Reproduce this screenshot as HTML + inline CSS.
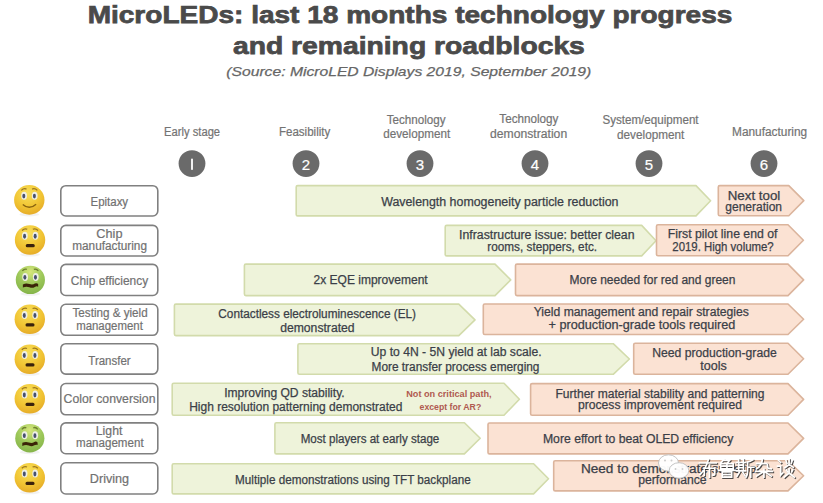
<!DOCTYPE html><html><head><meta charset="utf-8"><style>html,body{margin:0;padding:0;background:#fff;width:823px;height:503px;overflow:hidden}svg{display:block;font-family:"Liberation Sans", sans-serif}</style></head><body>
<svg width="823" height="503" viewBox="0 0 823 503">
<text x="410.0" y="23.4" text-anchor="middle" font-size="24.6" fill="#4a4a4a" font-weight="bold" font-style="normal" textLength="644.7" lengthAdjust="spacingAndGlyphs" stroke="#4a4a4a" stroke-width="0.75">MicroLEDs: last 18 months technology progress</text>
<text x="408.9" y="53.8" text-anchor="middle" font-size="24.6" fill="#4a4a4a" font-weight="bold" font-style="normal" textLength="351.9" lengthAdjust="spacingAndGlyphs" stroke="#4a4a4a" stroke-width="0.75">and remaining roadblocks</text>
<text x="408.8" y="76.3" text-anchor="middle" font-size="13.6" fill="#666" font-weight="normal" font-style="italic" textLength="365.0" lengthAdjust="spacingAndGlyphs" stroke="#666" stroke-width="0.25">(Source: MicroLED Displays 2019, September 2019)</text>
<text x="192.1" y="136.1" text-anchor="middle" font-size="12" fill="#737373" font-weight="normal" font-style="normal" textLength="56.0" lengthAdjust="spacingAndGlyphs" stroke="#737373" stroke-width="0.2">Early stage</text>
<text x="304.6" y="136.0" text-anchor="middle" font-size="12" fill="#737373" font-weight="normal" font-style="normal" textLength="51.4" lengthAdjust="spacingAndGlyphs" stroke="#737373" stroke-width="0.2">Feasibility</text>
<text x="416.1" y="123.6" text-anchor="middle" font-size="12" fill="#737373" font-weight="normal" font-style="normal" textLength="58.9" lengthAdjust="spacingAndGlyphs" stroke="#737373" stroke-width="0.2">Technology</text>
<text x="416.7" y="138.2" text-anchor="middle" font-size="12" fill="#737373" font-weight="normal" font-style="normal" textLength="66.9" lengthAdjust="spacingAndGlyphs" stroke="#737373" stroke-width="0.2">development</text>
<text x="528.9" y="123.4" text-anchor="middle" font-size="12" fill="#737373" font-weight="normal" font-style="normal" textLength="59.1" lengthAdjust="spacingAndGlyphs" stroke="#737373" stroke-width="0.2">Technology</text>
<text x="528.6" y="138.4" text-anchor="middle" font-size="12" fill="#737373" font-weight="normal" font-style="normal" textLength="77.1" lengthAdjust="spacingAndGlyphs" stroke="#737373" stroke-width="0.2">demonstration</text>
<text x="650.5" y="123.9" text-anchor="middle" font-size="12" fill="#737373" font-weight="normal" font-style="normal" textLength="96.2" lengthAdjust="spacingAndGlyphs" stroke="#737373" stroke-width="0.2">System/equipment</text>
<text x="650.7" y="138.7" text-anchor="middle" font-size="12" fill="#737373" font-weight="normal" font-style="normal" textLength="67.3" lengthAdjust="spacingAndGlyphs" stroke="#737373" stroke-width="0.2">development</text>
<text x="769.6" y="136.3" text-anchor="middle" font-size="12" fill="#737373" font-weight="normal" font-style="normal" textLength="75.1" lengthAdjust="spacingAndGlyphs" stroke="#737373" stroke-width="0.2">Manufacturing</text>
<circle cx="192" cy="163.6" r="13.4" fill="#6a6a6a"/>
<rect x="191.1" y="158.7" width="1.8" height="11.1" fill="#fff"/>
<circle cx="306" cy="163.6" r="13.4" fill="#6a6a6a"/>
<text x="306" y="170.3" text-anchor="middle" font-size="15" fill="#fff" stroke="#fff" stroke-width="0.2">2</text>
<circle cx="420" cy="163.6" r="13.4" fill="#6a6a6a"/>
<text x="420" y="170.3" text-anchor="middle" font-size="15" fill="#fff" stroke="#fff" stroke-width="0.2">3</text>
<circle cx="535" cy="163.6" r="13.4" fill="#6a6a6a"/>
<text x="535" y="170.3" text-anchor="middle" font-size="15" fill="#fff" stroke="#fff" stroke-width="0.2">4</text>
<circle cx="649" cy="163.6" r="13.4" fill="#6a6a6a"/>
<text x="649" y="170.3" text-anchor="middle" font-size="15" fill="#fff" stroke="#fff" stroke-width="0.2">5</text>
<circle cx="764" cy="163.6" r="13.4" fill="#6a6a6a"/>
<text x="764" y="170.3" text-anchor="middle" font-size="15" fill="#fff" stroke="#fff" stroke-width="0.2">6</text>
<rect x="60.8" y="185.7" width="97" height="30.3" rx="5" ry="5" fill="#fff" stroke="#808080" stroke-width="1.6"/>
<text x="109.3" y="206.0" text-anchor="middle" font-size="12" fill="#717171" font-weight="normal" font-style="normal" textLength="37.6" lengthAdjust="spacingAndGlyphs" stroke="#717171" stroke-width="0.2">Epitaxy</text>
<rect x="60.8" y="225.4" width="97" height="30.6" rx="5" ry="5" fill="#fff" stroke="#808080" stroke-width="1.6"/>
<text x="109.4" y="237.9" text-anchor="middle" font-size="12" fill="#717171" font-weight="normal" font-style="normal" textLength="26.1" lengthAdjust="spacingAndGlyphs" stroke="#717171" stroke-width="0.2">Chip</text>
<text x="109.6" y="249.8" text-anchor="middle" font-size="12" fill="#717171" font-weight="normal" font-style="normal" textLength="74.7" lengthAdjust="spacingAndGlyphs" stroke="#717171" stroke-width="0.2">manufacturing</text>
<rect x="60.8" y="264.4" width="97" height="31.1" rx="5" ry="5" fill="#fff" stroke="#808080" stroke-width="1.6"/>
<text x="109.5" y="285.0" text-anchor="middle" font-size="12" fill="#717171" font-weight="normal" font-style="normal" textLength="77.3" lengthAdjust="spacingAndGlyphs" stroke="#717171" stroke-width="0.2">Chip efficiency</text>
<rect x="60.8" y="304.3" width="97" height="31.0" rx="5" ry="5" fill="#fff" stroke="#808080" stroke-width="1.6"/>
<text x="110.1" y="317.4" text-anchor="middle" font-size="12" fill="#717171" font-weight="normal" font-style="normal" textLength="75.1" lengthAdjust="spacingAndGlyphs" stroke="#717171" stroke-width="0.2">Testing &amp; yield</text>
<text x="109.5" y="329.5" text-anchor="middle" font-size="12" fill="#717171" font-weight="normal" font-style="normal" textLength="66.7" lengthAdjust="spacingAndGlyphs" stroke="#717171" stroke-width="0.2">management</text>
<rect x="60.8" y="343.7" width="97" height="30.4" rx="5" ry="5" fill="#fff" stroke="#808080" stroke-width="1.6"/>
<text x="109.5" y="364.6" text-anchor="middle" font-size="12" fill="#717171" font-weight="normal" font-style="normal" textLength="42.4" lengthAdjust="spacingAndGlyphs" stroke="#717171" stroke-width="0.2">Transfer</text>
<rect x="60.8" y="383.5" width="97" height="31.3" rx="5" ry="5" fill="#fff" stroke="#808080" stroke-width="1.6"/>
<text x="109.5" y="403.4" text-anchor="middle" font-size="12" fill="#717171" font-weight="normal" font-style="normal" textLength="91.9" lengthAdjust="spacingAndGlyphs" stroke="#717171" stroke-width="0.2">Color conversion</text>
<rect x="60.8" y="422.9" width="97" height="30.8" rx="5" ry="5" fill="#fff" stroke="#808080" stroke-width="1.6"/>
<text x="109.1" y="435.3" text-anchor="middle" font-size="12" fill="#717171" font-weight="normal" font-style="normal" textLength="26.6" lengthAdjust="spacingAndGlyphs" stroke="#717171" stroke-width="0.2">Light</text>
<text x="109.8" y="447.1" text-anchor="middle" font-size="12" fill="#717171" font-weight="normal" font-style="normal" textLength="67.6" lengthAdjust="spacingAndGlyphs" stroke="#717171" stroke-width="0.2">management</text>
<rect x="60.8" y="462.8" width="97" height="31.2" rx="5" ry="5" fill="#fff" stroke="#808080" stroke-width="1.6"/>
<text x="109.5" y="483.4" text-anchor="middle" font-size="12" fill="#717171" font-weight="normal" font-style="normal" textLength="39.3" lengthAdjust="spacingAndGlyphs" stroke="#717171" stroke-width="0.2">Driving</text>
<path d="M297.7,185.6 L696.0,185.6 L710.6,200.8 L696.0,215.9 L297.7,215.9 Q296.2,215.9 296.2,214.4 L296.2,187.1 Q296.2,185.6 297.7,185.6 Z" fill="#eef3da" stroke="#d2dbab" stroke-width="1.6" stroke-linejoin="round"/>
<path d="M446.7,225.4 L641.7,225.4 L656.0,240.7 L641.7,255.9 L446.7,255.9 Q445.2,255.9 445.2,254.4 L445.2,226.9 Q445.2,225.4 446.7,225.4 Z" fill="#eef3da" stroke="#d2dbab" stroke-width="1.6" stroke-linejoin="round"/>
<path d="M245.9,264.1 L495.0,264.1 L510.7,279.9 L495.0,295.6 L245.9,295.6 Q244.4,295.6 244.4,294.1 L244.4,265.6 Q244.4,264.1 245.9,264.1 Z" fill="#eef3da" stroke="#d2dbab" stroke-width="1.6" stroke-linejoin="round"/>
<path d="M175.9,304.1 L458.8,304.1 L475.0,319.9 L458.8,335.6 L175.9,335.6 Q174.4,335.6 174.4,334.1 L174.4,305.6 Q174.4,304.1 175.9,304.1 Z" fill="#eef3da" stroke="#d2dbab" stroke-width="1.6" stroke-linejoin="round"/>
<path d="M299.4,343.7 L613.2,343.7 L629.4,359.0 L613.2,374.3 L299.4,374.3 Q297.9,374.3 297.9,372.8 L297.9,345.2 Q297.9,343.7 299.4,343.7 Z" fill="#eef3da" stroke="#d2dbab" stroke-width="1.6" stroke-linejoin="round"/>
<path d="M173.7,383.3 L504.0,383.3 L519.4,399.2 L504.0,415.2 L173.7,415.2 Q172.2,415.2 172.2,413.7 L172.2,384.8 Q172.2,383.3 173.7,383.3 Z" fill="#eef3da" stroke="#d2dbab" stroke-width="1.6" stroke-linejoin="round"/>
<path d="M276.4,422.7 L464.4,422.7 L480.2,438.3 L464.4,453.9 L276.4,453.9 Q274.9,453.9 274.9,452.4 L274.9,424.2 Q274.9,422.7 276.4,422.7 Z" fill="#eef3da" stroke="#d2dbab" stroke-width="1.6" stroke-linejoin="round"/>
<path d="M173.7,463.7 L533.6,463.7 L548.5,478.8 L533.6,493.9 L173.7,493.9 Q172.2,493.9 172.2,492.4 L172.2,465.2 Q172.2,463.7 173.7,463.7 Z" fill="#eef3da" stroke="#d2dbab" stroke-width="1.6" stroke-linejoin="round"/>
<path d="M719.8,185.6 L788.8,185.6 L803.8,200.6 L788.8,215.7 L719.8,215.7 Q718.3,215.7 718.3,214.2 L718.3,187.1 Q718.3,185.6 719.8,185.6 Z" fill="#fbe2d3" stroke="#dbb49c" stroke-width="1.6" stroke-linejoin="round"/>
<path d="M658.0,224.7 L788.0,224.7 L803.4,240.2 L788.0,255.8 L658.0,255.8 Q656.5,255.8 656.5,254.3 L656.5,226.2 Q656.5,224.7 658.0,224.7 Z" fill="#fbe2d3" stroke="#dbb49c" stroke-width="1.6" stroke-linejoin="round"/>
<path d="M517.0,264.1 L788.0,264.1 L803.6,279.9 L788.0,295.6 L517.0,295.6 Q515.5,295.6 515.5,294.1 L515.5,265.6 Q515.5,264.1 517.0,264.1 Z" fill="#fbe2d3" stroke="#dbb49c" stroke-width="1.6" stroke-linejoin="round"/>
<path d="M484.8,304.0 L788.0,304.0 L803.6,319.2 L788.0,334.5 L484.8,334.5 Q483.3,334.5 483.3,333.0 L483.3,305.5 Q483.3,304.0 484.8,304.0 Z" fill="#fbe2d3" stroke="#dbb49c" stroke-width="1.6" stroke-linejoin="round"/>
<path d="M635.2,343.3 L788.0,343.3 L803.6,358.8 L788.0,374.3 L635.2,374.3 Q633.7,374.3 633.7,372.8 L633.7,344.8 Q633.7,343.3 635.2,343.3 Z" fill="#fbe2d3" stroke="#dbb49c" stroke-width="1.6" stroke-linejoin="round"/>
<path d="M532.1,383.6 L788.0,383.6 L803.6,399.4 L788.0,415.2 L532.1,415.2 Q530.6,415.2 530.6,413.7 L530.6,385.1 Q530.6,383.6 532.1,383.6 Z" fill="#fbe2d3" stroke="#dbb49c" stroke-width="1.6" stroke-linejoin="round"/>
<path d="M489.5,423.0 L788.0,423.0 L803.6,438.4 L788.0,453.9 L489.5,453.9 Q488.0,453.9 488.0,452.4 L488.0,424.5 Q488.0,423.0 489.5,423.0 Z" fill="#fbe2d3" stroke="#dbb49c" stroke-width="1.6" stroke-linejoin="round"/>
<path d="M555.2,460.7 L788.0,460.7 L803.6,475.8 L788.0,490.9 L555.2,490.9 Q553.7,490.9 553.7,489.4 L553.7,462.2 Q553.7,460.7 555.2,460.7 Z" fill="#fbe2d3" stroke="#dbb49c" stroke-width="1.6" stroke-linejoin="round"/>
<text x="499.8" y="205.5" text-anchor="middle" font-size="12" fill="#3b3f48" font-weight="normal" font-style="normal" textLength="237.3" lengthAdjust="spacingAndGlyphs" stroke="#3b3f48" stroke-width="0.25">Wavelength homogeneity particle reduction</text>
<text x="754.0" y="199.6" text-anchor="middle" font-size="12" fill="#3b3f48" font-weight="normal" font-style="normal" textLength="52.6" lengthAdjust="spacingAndGlyphs" stroke="#3b3f48" stroke-width="0.25">Next tool</text>
<text x="753.7" y="210.7" text-anchor="middle" font-size="12" fill="#3b3f48" font-weight="normal" font-style="normal" textLength="56.7" lengthAdjust="spacingAndGlyphs" stroke="#3b3f48" stroke-width="0.25">generation</text>
<text x="546.8" y="239.0" text-anchor="middle" font-size="12" fill="#3b3f48" font-weight="normal" font-style="normal" textLength="175.4" lengthAdjust="spacingAndGlyphs" stroke="#3b3f48" stroke-width="0.25">Infrastructure issue: better clean</text>
<text x="542.2" y="250.6" text-anchor="middle" font-size="12" fill="#3b3f48" font-weight="normal" font-style="normal" textLength="109.7" lengthAdjust="spacingAndGlyphs" stroke="#3b3f48" stroke-width="0.25">rooms, steppers, etc.</text>
<text x="722.6" y="238.3" text-anchor="middle" font-size="12" fill="#3b3f48" font-weight="normal" font-style="normal" textLength="109.6" lengthAdjust="spacingAndGlyphs" stroke="#3b3f48" stroke-width="0.25">First pilot line end of</text>
<text x="723.0" y="251.2" text-anchor="middle" font-size="12" fill="#3b3f48" font-weight="normal" font-style="normal" textLength="101.4" lengthAdjust="spacingAndGlyphs" stroke="#3b3f48" stroke-width="0.25">2019. High volume?</text>
<text x="370.6" y="284.1" text-anchor="middle" font-size="12" fill="#3b3f48" font-weight="normal" font-style="normal" textLength="114.2" lengthAdjust="spacingAndGlyphs" stroke="#3b3f48" stroke-width="0.25">2x EQE improvement</text>
<text x="652.5" y="284.1" text-anchor="middle" font-size="12" fill="#3b3f48" font-weight="normal" font-style="normal" textLength="165.8" lengthAdjust="spacingAndGlyphs" stroke="#3b3f48" stroke-width="0.25">More needed for red and green</text>
<text x="317.2" y="318.0" text-anchor="middle" font-size="12" fill="#3b3f48" font-weight="normal" font-style="normal" textLength="197.7" lengthAdjust="spacingAndGlyphs" stroke="#3b3f48" stroke-width="0.25">Contactless electroluminescence (EL)</text>
<text x="317.4" y="331.5" text-anchor="middle" font-size="12" fill="#3b3f48" font-weight="normal" font-style="normal" textLength="74.5" lengthAdjust="spacingAndGlyphs" stroke="#3b3f48" stroke-width="0.25">demonstrated</text>
<text x="641.3" y="316.2" text-anchor="middle" font-size="12" fill="#3b3f48" font-weight="normal" font-style="normal" textLength="215.2" lengthAdjust="spacingAndGlyphs" stroke="#3b3f48" stroke-width="0.25">Yield management and repair strategies</text>
<text x="642.0" y="329.3" text-anchor="middle" font-size="12" fill="#3b3f48" font-weight="normal" font-style="normal" textLength="186.8" lengthAdjust="spacingAndGlyphs" stroke="#3b3f48" stroke-width="0.25">+ production-grade tools required</text>
<text x="456.2" y="356.4" text-anchor="middle" font-size="12" fill="#3b3f48" font-weight="normal" font-style="normal" textLength="170.8" lengthAdjust="spacingAndGlyphs" stroke="#3b3f48" stroke-width="0.25">Up to 4N - 5N yield at lab scale.</text>
<text x="455.5" y="371.0" text-anchor="middle" font-size="12" fill="#3b3f48" font-weight="normal" font-style="normal" textLength="167.9" lengthAdjust="spacingAndGlyphs" stroke="#3b3f48" stroke-width="0.25">More transfer process emerging</text>
<text x="714.5" y="357.2" text-anchor="middle" font-size="12" fill="#3b3f48" font-weight="normal" font-style="normal" textLength="124.4" lengthAdjust="spacingAndGlyphs" stroke="#3b3f48" stroke-width="0.25">Need production-grade</text>
<text x="713.6" y="370.4" text-anchor="middle" font-size="12" fill="#3b3f48" font-weight="normal" font-style="normal" textLength="26.5" lengthAdjust="spacingAndGlyphs" stroke="#3b3f48" stroke-width="0.25">tools</text>
<text x="284.4" y="397.1" text-anchor="middle" font-size="12" fill="#3b3f48" font-weight="normal" font-style="normal" textLength="120.5" lengthAdjust="spacingAndGlyphs" stroke="#3b3f48" stroke-width="0.25">Improving QD stability.</text>
<text x="295.8" y="411.0" text-anchor="middle" font-size="12" fill="#3b3f48" font-weight="normal" font-style="normal" textLength="213.3" lengthAdjust="spacingAndGlyphs" stroke="#3b3f48" stroke-width="0.25">High resolution patterning demonstrated</text>
<text x="660.0" y="397.7" text-anchor="middle" font-size="12" fill="#3b3f48" font-weight="normal" font-style="normal" textLength="209.0" lengthAdjust="spacingAndGlyphs" stroke="#3b3f48" stroke-width="0.25">Further material stability and patterning</text>
<text x="660.0" y="409.3" text-anchor="middle" font-size="12" fill="#3b3f48" font-weight="normal" font-style="normal" textLength="164.0" lengthAdjust="spacingAndGlyphs" stroke="#3b3f48" stroke-width="0.25">process improvement required</text>
<text x="370.0" y="442.5" text-anchor="middle" font-size="12" fill="#3b3f48" font-weight="normal" font-style="normal" textLength="138.6" lengthAdjust="spacingAndGlyphs" stroke="#3b3f48" stroke-width="0.25">Most players at early stage</text>
<text x="638.1" y="443.0" text-anchor="middle" font-size="12" fill="#3b3f48" font-weight="normal" font-style="normal" textLength="190.3" lengthAdjust="spacingAndGlyphs" stroke="#3b3f48" stroke-width="0.25">More effort to beat OLED efficiency</text>
<text x="352.9" y="484.0" text-anchor="middle" font-size="12" fill="#3b3f48" font-weight="normal" font-style="normal" textLength="235.6" lengthAdjust="spacingAndGlyphs" stroke="#3b3f48" stroke-width="0.25">Multiple demonstrations using TFT backplane</text>
<text x="670.8" y="473.2" text-anchor="middle" font-size="12" fill="#3b3f48" font-weight="normal" font-style="normal" textLength="179.8" lengthAdjust="spacingAndGlyphs" stroke="#3b3f48" stroke-width="0.25">Need to demonstrate superior</text>
<text x="672.4" y="484.2" text-anchor="middle" font-size="12" fill="#3b3f48" font-weight="normal" font-style="normal" textLength="68.3" lengthAdjust="spacingAndGlyphs" stroke="#3b3f48" stroke-width="0.25">performance</text>
<text x="448.9" y="396.8" text-anchor="middle" font-size="8.5" fill="#b05a50" font-weight="bold" font-style="normal" textLength="85.3" lengthAdjust="spacingAndGlyphs">Not on critical path,</text>
<text x="450.4" y="409.5" text-anchor="middle" font-size="8.5" fill="#b05a50" font-weight="bold" font-style="normal" textLength="61.7" lengthAdjust="spacingAndGlyphs">except for AR?</text>
<defs><radialGradient id="gy" cx="0.45" cy="0.28" r="0.8"><stop offset="0" stop-color="#f9e05a"/><stop offset="0.55" stop-color="#f1c534"/><stop offset="1" stop-color="#e3a524"/></radialGradient><radialGradient id="gg" cx="0.5" cy="0.22" r="0.85"><stop offset="0" stop-color="#d6e67c"/><stop offset="0.5" stop-color="#9dc85a"/><stop offset="1" stop-color="#80b046"/></radialGradient></defs>
<g transform="translate(29.3,199.9)">
<ellipse cx="0" cy="14.5" rx="10" ry="2" fill="#000" opacity="0.05"/>
<ellipse cx="0" cy="0" rx="15.2" ry="14.8" fill="url(#gy)"/>
<ellipse cx="-5.2" cy="-4.2" rx="2.9" ry="4.0" fill="#eeefe6"/>
<ellipse cx="-5.5" cy="-3.8000000000000003" rx="1.5" ry="2.4" fill="#47506e"/>
<ellipse cx="5.4" cy="-4.2" rx="2.9" ry="4.0" fill="#eeefe6"/>
<ellipse cx="5.1000000000000005" cy="-3.8000000000000003" rx="1.5" ry="2.4" fill="#47506e"/>
<path d="M-8,-9.5 Q-5.5,-12 -2.8,-10.8 M2.8,-10.8 Q5.5,-12 8,-9.5" stroke="#8a6418" stroke-width="1.3" fill="none" opacity="0.85"/>
<path d="M-6.5,4.5 Q0,10.5 6.8,4.3" stroke="#8a6410" stroke-width="1.4" fill="none"/>
</g>
<g transform="translate(30.05,240.05)">
<ellipse cx="0" cy="14.5" rx="10" ry="2" fill="#000" opacity="0.05"/>
<ellipse cx="0" cy="0" rx="15.2" ry="14.8" fill="url(#gy)"/>
<ellipse cx="-5.2" cy="-4.2" rx="2.9" ry="4.0" fill="#eeefe6"/>
<ellipse cx="-5.5" cy="-3.8000000000000003" rx="1.5" ry="2.4" fill="#47506e"/>
<ellipse cx="5.4" cy="-4.2" rx="2.9" ry="4.0" fill="#eeefe6"/>
<ellipse cx="5.1000000000000005" cy="-3.8000000000000003" rx="1.5" ry="2.4" fill="#47506e"/>
<path d="M-8,-9.5 Q-5.5,-12 -2.8,-10.8 M2.8,-10.8 Q5.5,-12 8,-9.5" stroke="#8a6418" stroke-width="1.3" fill="none" opacity="0.85"/>
<rect x="-4.3" y="4.0" width="9" height="3.2" rx="1.5" fill="#3a220c"/>
</g>
<g transform="translate(30.35,279.9)">
<ellipse cx="0" cy="13.9" rx="10" ry="2" fill="#000" opacity="0.05"/>
<ellipse cx="0" cy="0" rx="14.6" ry="14.200000000000001" fill="url(#gg)"/>
<ellipse cx="-5.2" cy="-3.0" rx="2.9" ry="4.0" fill="#eeefe6"/>
<ellipse cx="-5.5" cy="-2.6" rx="1.5" ry="2.4" fill="#47506e"/>
<ellipse cx="5.4" cy="-3.0" rx="2.9" ry="4.0" fill="#eeefe6"/>
<ellipse cx="5.1000000000000005" cy="-2.6" rx="1.5" ry="2.4" fill="#47506e"/>
<path d="M-8,-9 Q-6,-11.5 -3.5,-10.5 M3.5,-10.5 Q6,-11.5 8,-9" stroke="#5a6a20" stroke-width="1.3" fill="none" opacity="0.8"/>
<path d="M-7.5,4.5 Q-4,3 -1,4.2 Q2.5,5.3 4.5,3.6 Q6.5,2.8 7.8,4.2 L7.8,6.8 Q6.5,5.8 4.5,7.0 Q2,8.6 -1,7.3 Q-4,6.2 -7.5,7.6 Z" fill="#3a2408"/>
</g>
<g transform="translate(29.8,319.3)">
<ellipse cx="0" cy="14.5" rx="10" ry="2" fill="#000" opacity="0.05"/>
<ellipse cx="0" cy="0" rx="15.2" ry="14.8" fill="url(#gy)"/>
<ellipse cx="-5.2" cy="-4.2" rx="2.9" ry="4.0" fill="#eeefe6"/>
<ellipse cx="-5.5" cy="-3.8000000000000003" rx="1.5" ry="2.4" fill="#47506e"/>
<ellipse cx="5.4" cy="-4.2" rx="2.9" ry="4.0" fill="#eeefe6"/>
<ellipse cx="5.1000000000000005" cy="-3.8000000000000003" rx="1.5" ry="2.4" fill="#47506e"/>
<path d="M-8,-9.5 Q-5.5,-12 -2.8,-10.8 M2.8,-10.8 Q5.5,-12 8,-9.5" stroke="#8a6418" stroke-width="1.3" fill="none" opacity="0.85"/>
<rect x="-4.3" y="4.0" width="9" height="3.2" rx="1.5" fill="#3a220c"/>
</g>
<g transform="translate(29.8,359.3)">
<ellipse cx="0" cy="14.5" rx="10" ry="2" fill="#000" opacity="0.05"/>
<ellipse cx="0" cy="0" rx="15.2" ry="14.8" fill="url(#gy)"/>
<ellipse cx="-5.2" cy="-4.2" rx="2.9" ry="4.0" fill="#eeefe6"/>
<ellipse cx="-5.5" cy="-3.8000000000000003" rx="1.5" ry="2.4" fill="#47506e"/>
<ellipse cx="5.4" cy="-4.2" rx="2.9" ry="4.0" fill="#eeefe6"/>
<ellipse cx="5.1000000000000005" cy="-3.8000000000000003" rx="1.5" ry="2.4" fill="#47506e"/>
<path d="M-8,-9.5 Q-5.5,-12 -2.8,-10.8 M2.8,-10.8 Q5.5,-12 8,-9.5" stroke="#8a6418" stroke-width="1.3" fill="none" opacity="0.85"/>
<rect x="-4.3" y="4.0" width="9" height="3.2" rx="1.5" fill="#3a220c"/>
</g>
<g transform="translate(29.8,398.8)">
<ellipse cx="0" cy="14.5" rx="10" ry="2" fill="#000" opacity="0.05"/>
<ellipse cx="0" cy="0" rx="15.2" ry="14.8" fill="url(#gy)"/>
<ellipse cx="-5.2" cy="-4.2" rx="2.9" ry="4.0" fill="#eeefe6"/>
<ellipse cx="-5.5" cy="-3.8000000000000003" rx="1.5" ry="2.4" fill="#47506e"/>
<ellipse cx="5.4" cy="-4.2" rx="2.9" ry="4.0" fill="#eeefe6"/>
<ellipse cx="5.1000000000000005" cy="-3.8000000000000003" rx="1.5" ry="2.4" fill="#47506e"/>
<path d="M-8,-9.5 Q-5.5,-12 -2.8,-10.8 M2.8,-10.8 Q5.5,-12 8,-9.5" stroke="#8a6418" stroke-width="1.3" fill="none" opacity="0.85"/>
<rect x="-4.3" y="4.0" width="9" height="3.2" rx="1.5" fill="#3a220c"/>
</g>
<g transform="translate(29.8,438.3)">
<ellipse cx="0" cy="13.9" rx="10" ry="2" fill="#000" opacity="0.05"/>
<ellipse cx="0" cy="0" rx="14.6" ry="14.200000000000001" fill="url(#gg)"/>
<ellipse cx="-5.2" cy="-3.0" rx="2.9" ry="4.0" fill="#eeefe6"/>
<ellipse cx="-5.5" cy="-2.6" rx="1.5" ry="2.4" fill="#47506e"/>
<ellipse cx="5.4" cy="-3.0" rx="2.9" ry="4.0" fill="#eeefe6"/>
<ellipse cx="5.1000000000000005" cy="-2.6" rx="1.5" ry="2.4" fill="#47506e"/>
<path d="M-8,-9 Q-6,-11.5 -3.5,-10.5 M3.5,-10.5 Q6,-11.5 8,-9" stroke="#5a6a20" stroke-width="1.3" fill="none" opacity="0.8"/>
<path d="M-7.5,4.5 Q-4,3 -1,4.2 Q2.5,5.3 4.5,3.6 Q6.5,2.8 7.8,4.2 L7.8,6.8 Q6.5,5.8 4.5,7.0 Q2,8.6 -1,7.3 Q-4,6.2 -7.5,7.6 Z" fill="#3a2408"/>
</g>
<g transform="translate(29.8,477.8)">
<ellipse cx="0" cy="14.5" rx="10" ry="2" fill="#000" opacity="0.05"/>
<ellipse cx="0" cy="0" rx="15.2" ry="14.8" fill="url(#gy)"/>
<ellipse cx="-5.2" cy="-4.2" rx="2.9" ry="4.0" fill="#eeefe6"/>
<ellipse cx="-5.5" cy="-3.8000000000000003" rx="1.5" ry="2.4" fill="#47506e"/>
<ellipse cx="5.4" cy="-4.2" rx="2.9" ry="4.0" fill="#eeefe6"/>
<ellipse cx="5.1000000000000005" cy="-3.8000000000000003" rx="1.5" ry="2.4" fill="#47506e"/>
<path d="M-8,-9.5 Q-5.5,-12 -2.8,-10.8 M2.8,-10.8 Q5.5,-12 8,-9.5" stroke="#8a6418" stroke-width="1.3" fill="none" opacity="0.85"/>
<rect x="-4.3" y="4.0" width="9" height="3.2" rx="1.5" fill="#3a220c"/>
</g>
<g transform="translate(699.4,459.2) scale(1.05)"><path d="M1,4.5 H17 M9.5,1 Q7,10 1.5,15.5 M10.5,6.5 V18 M5.5,9.5 V16 M5.5,9.5 H15.5 V15 Q15.5,16.3 13.5,16" fill="none" stroke="#2e2e2e" stroke-width="1.7" opacity="0.85" stroke-linecap="square"/></g>
<g transform="translate(718.4,459.2) scale(1.05)"><path d="M6,1 L3,4.5 M6,2 H11.5 L9.5,4.5 M3,5 H15 V10 H3 Z M9,5 V10 M3,7.5 H15 M1,11.5 H17 M4.5,13 H13.5 V18 H4.5 Z M4.5,15.5 H13.5" fill="none" stroke="#2e2e2e" stroke-width="1.7" opacity="0.85" stroke-linecap="square"/></g>
<g transform="translate(736.4,459.2) scale(1.05)"><path d="M1,4 H9.5 M3,1 V12 M7.5,1 V12 M3,6.5 H7.5 M3,9 H7.5 M1,12 H9.5 M3.5,13.5 L1.5,17 M7,13.5 L9,16.5 M16.5,1.5 Q14,3 11.5,3.5 V12 Q11.5,16 10,18 M11.5,8.5 H17.5 M14.5,8.5 V18" fill="none" stroke="#2e2e2e" stroke-width="1.7" opacity="0.85" stroke-linecap="square"/></g>
<g transform="translate(755.4,459.2) scale(1.05)"><path d="M2,5 H11.5 Q12.5,5 12.5,8.5 Q12.5,10 16,10 M7.5,1 Q7,7 2,10 M1,12.5 H17 M9,10.5 V18 M8,13 L2,17 M10,13 L16,17" fill="none" stroke="#2e2e2e" stroke-width="1.7" opacity="0.85" stroke-linecap="square"/></g>
<g transform="translate(777.4,459.2) scale(1.05)"><path d="M2,2 L4,4 M1,7.5 H4 V16 L6,14 M9,2 L10,5 M15,2 L14,5 M12,1 V6 L8,9 M12,6 L16,8.5 M9.5,11 L10.5,13 M15.5,11 L14.5,13 M12,10 V14 L7.5,18 M12,14 L17,18" fill="none" stroke="#2e2e2e" stroke-width="1.7" opacity="0.85" stroke-linecap="square"/></g>
<g transform="translate(698.5,458.3) scale(1.05)"><path d="M1,4.5 H17 M9.5,1 Q7,10 1.5,15.5 M10.5,6.5 V18 M5.5,9.5 V16 M5.5,9.5 H15.5 V15 Q15.5,16.3 13.5,16" fill="none" stroke="#ffffff" stroke-width="1.6" stroke-linecap="square"/></g>
<g transform="translate(717.5,458.3) scale(1.05)"><path d="M6,1 L3,4.5 M6,2 H11.5 L9.5,4.5 M3,5 H15 V10 H3 Z M9,5 V10 M3,7.5 H15 M1,11.5 H17 M4.5,13 H13.5 V18 H4.5 Z M4.5,15.5 H13.5" fill="none" stroke="#ffffff" stroke-width="1.6" stroke-linecap="square"/></g>
<g transform="translate(735.5,458.3) scale(1.05)"><path d="M1,4 H9.5 M3,1 V12 M7.5,1 V12 M3,6.5 H7.5 M3,9 H7.5 M1,12 H9.5 M3.5,13.5 L1.5,17 M7,13.5 L9,16.5 M16.5,1.5 Q14,3 11.5,3.5 V12 Q11.5,16 10,18 M11.5,8.5 H17.5 M14.5,8.5 V18" fill="none" stroke="#ffffff" stroke-width="1.6" stroke-linecap="square"/></g>
<g transform="translate(754.5,458.3) scale(1.05)"><path d="M2,5 H11.5 Q12.5,5 12.5,8.5 Q12.5,10 16,10 M7.5,1 Q7,7 2,10 M1,12.5 H17 M9,10.5 V18 M8,13 L2,17 M10,13 L16,17" fill="none" stroke="#ffffff" stroke-width="1.6" stroke-linecap="square"/></g>
<g transform="translate(776.5,458.3) scale(1.05)"><path d="M2,2 L4,4 M1,7.5 H4 V16 L6,14 M9,2 L10,5 M15,2 L14,5 M12,1 V6 L8,9 M12,6 L16,8.5 M9.5,11 L10.5,13 M15.5,11 L14.5,13 M12,10 V14 L7.5,18 M12,14 L17,18" fill="none" stroke="#ffffff" stroke-width="1.6" stroke-linecap="square"/></g>
<ellipse cx="668.5" cy="463.0" rx="10" ry="8.2" fill="#fff" fill-opacity="0.96" stroke="#bdbdbd" stroke-width="0.9"/>
<ellipse cx="679.0" cy="470.5" rx="9.8" ry="7.8" fill="#fff" fill-opacity="0.96" stroke="#bdbdbd" stroke-width="0.9"/>
<circle cx="665" cy="460.5" r="1" fill="#ccc"/><circle cx="671.5" cy="460.5" r="1" fill="#ccc"/>
<circle cx="675.5" cy="469" r="0.9" fill="#ccc"/><circle cx="682.5" cy="469" r="0.9" fill="#ccc"/>
</svg></body></html>
